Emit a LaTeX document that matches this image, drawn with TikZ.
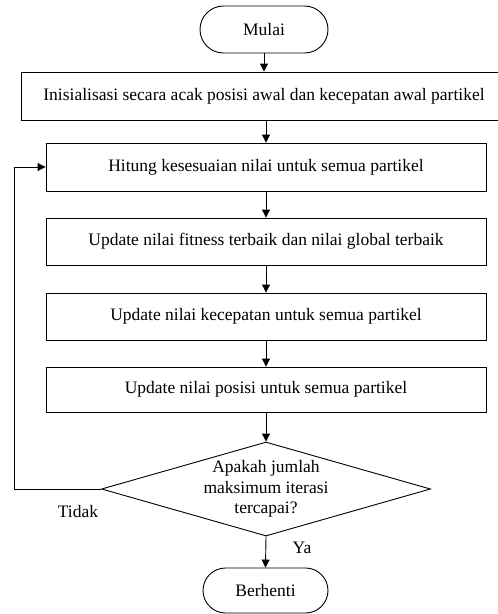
\documentclass[tikz,border=0pt]{standalone}
\usepackage{fontspec}
\setmainfont{Liberation Serif}
\usetikzlibrary{arrows.meta,shapes.geometric,shapes.misc}
\begin{document}
\begin{tikzpicture}[x=1pt,y=-1pt,
  every node/.style={font=\fontsize{17.5}{20.5}\selectfont},
  proc/.style={draw,line width=0.9pt,rectangle,inner sep=0pt,minimum width=440pt},
  term/.style={draw,line width=0.9pt,rounded rectangle,inner sep=0pt},
  decis/.style={draw,line width=0.9pt,diamond,shape aspect=3.5,inner sep=0pt,align=center,minimum width=329pt,minimum height=94pt},
  arr/.style={line width=0.9pt,-{Triangle[length=8pt,width=8pt]}},
  lbl/.style={inner sep=0pt}]
\useasboundingbox (0,0) rectangle (498,614);
\node[term,minimum width=128pt,minimum height=47pt] (start) at (264,29.5) {Mulai};
\node[proc,minimum width=486pt,minimum height=48pt] (b1) at (264,96) {Inisialisasi secara acak posisi awal dan kecepatan awal partikel};
\node[proc,minimum height=48pt] (b2) at (266,167) {Hitung kesesuaian nilai untuk semua partikel};
\node[proc,minimum height=47pt] (b3) at (266,241.5) {Update nilai fitness terbaik dan nilai global terbaik};
\node[proc,minimum height=47pt] (b4) at (266,316.5) {Update nilai kecepatan untuk semua partikel};
\node[proc,minimum height=45pt] (b5) at (266,389.5) {Update nilai posisi untuk semua partikel};
\node[decis] (dec) at (266,489) {Apakah jumlah\\maksimum iterasi\\tercapai?};
\node[term,minimum width=125pt,minimum height=45pt] (stop) at (265.5,590.5) {Berhenti};
\node[lbl] (tidak) at (78,512) {Tidak};
\node[lbl] (ya) at (302,548) {Ya};
\coordinate (loopc) at (14,489);
\draw[arr] (start.south) -- (start.south |- b1.north);
\draw[arr] (b2.north |- b1.south) -- (b2.north);
\draw[arr] (b2.south) -- (b3.north);
\draw[arr] (b3.south) -- (b4.north);
\draw[arr] (b4.south) -- (b5.north);
\draw[arr] (b5.south) -- (dec.north);
\draw[arr] (dec.south) -- (stop.north);
\draw[arr] (dec.west) -- (loopc) |- (b2.west);
\end{tikzpicture}
\end{document}
